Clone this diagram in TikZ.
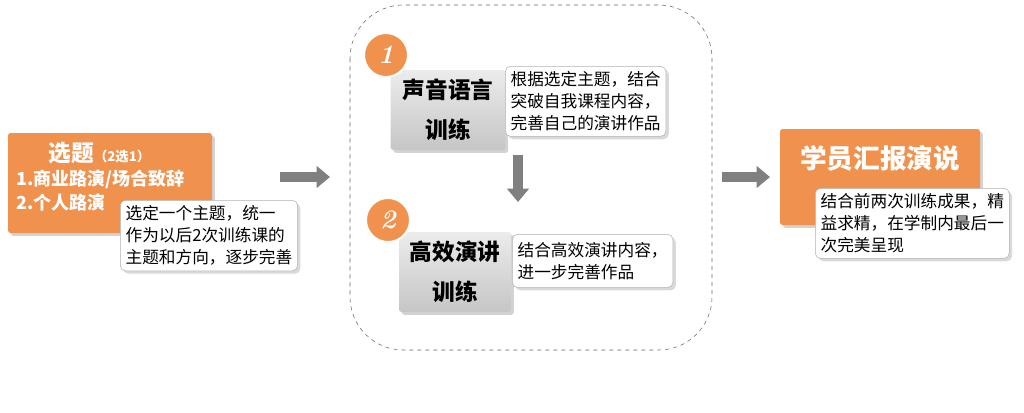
\documentclass[tikz,border=0pt]{standalone}
\usepackage{fontspec}
\newfontfamily\cjk{Noto Sans CJK SC}
\usetikzlibrary{shadows,arrows.meta}
\definecolor{org}{HTML}{F0924E}
\definecolor{gr}{HTML}{808080}
\tikzset{
 orgbox/.style={fill=org,draw=none,rounded corners=2pt,drop shadow={opacity=0.35}},
 callout/.style={fill=white,draw=gray!60,rounded corners=4pt,drop shadow={opacity=0.3},align=left,font=\cjk\fontsize{12.5}{16.5}\selectfont,inner sep=4pt},
 graybox/.style={top color=gray!15,bottom color=gray!45,draw=none,rounded corners=2pt,drop shadow={opacity=0.35},align=center,font=\cjk\bfseries\fontsize{17}{30}\selectfont},
 numc/.style={circle,fill=org,draw=white,line width=1.5pt,minimum size=33pt,text=white,font=\itshape\bfseries\fontsize{20}{20}\selectfont},
 bigarrow/.style={gr,line width=7pt,-{Triangle[length=10pt,width=16pt]}}
}
\begin{document}
\begin{tikzpicture}[x=0.75pt,y=-0.75pt]
\useasboundingbox (0,0) rectangle (1024,412);
% left
\node[orgbox,minimum width=153pt,minimum height=75pt] (sel) at (110,183) {};
\node[text=white,font=\cjk\bfseries\fontsize{13.5}{16}\selectfont,anchor=north west,align=left] (selt) at (12,138) {\hspace*{24pt}{\fontsize{17}{18}\selectfont 选题}{\fontsize{10}{12}\selectfont（2选1）}\\[2pt]1.商业路演/场合致辞\\[2pt]2.个人路演};
\node[callout,anchor=north west] (c1) at (120,200) {选定一个主题，统一\\作为以后2次训练课的\\主题和方向，逐步完善};
% dashed
\draw[dashed,gray!80!black,rounded corners=40pt] (350,5) rectangle (712,350);
\node[graybox,minimum width=86pt,minimum height=60pt] (g1) at (448,110) {声音语言\\训练};
\node[callout,anchor=north west] (c2) at (505,66) {根据选定主题，结合\\突破自我课程内容，\\完善自己的演讲作品};
\node[numc] (n1) at (386,55) {1};
\node[graybox,minimum width=84pt,minimum height=60pt] (g2) at (455,272) {高效演讲\\训练};
\node[callout,anchor=north west,minimum width=118pt,minimum height=40pt] (c3) at (512,234) {结合高效演讲内容，\\进一步完善作品};
\node[numc] (n2) at (388,220) {2};
\coordinate (d1) at (518,155); \coordinate (d2) at (518,202);
\draw[bigarrow] (d1) -- (d2);
% arrows
\coordinate (a1) at (280,177); \coordinate (a2) at (330,177);
\draw[bigarrow] (a1) -- (a2);
\coordinate (b1) at (722,177); \coordinate (b2) at (770,177);
\draw[bigarrow] (b1) -- (b2);
% right
\node[orgbox,minimum width=150pt,minimum height=72pt] (rep) at (880,177) {};
\node[text=white,font=\cjk\bfseries\fontsize{20}{22}\selectfont] (rept) at (880,158) {学员汇报演说};
\node[callout,anchor=north west] (c4) at (815,188) {结合前两次训练成果，精\\益求精，在学制内最后一\\次完美呈现};
\end{tikzpicture}
\end{document}
